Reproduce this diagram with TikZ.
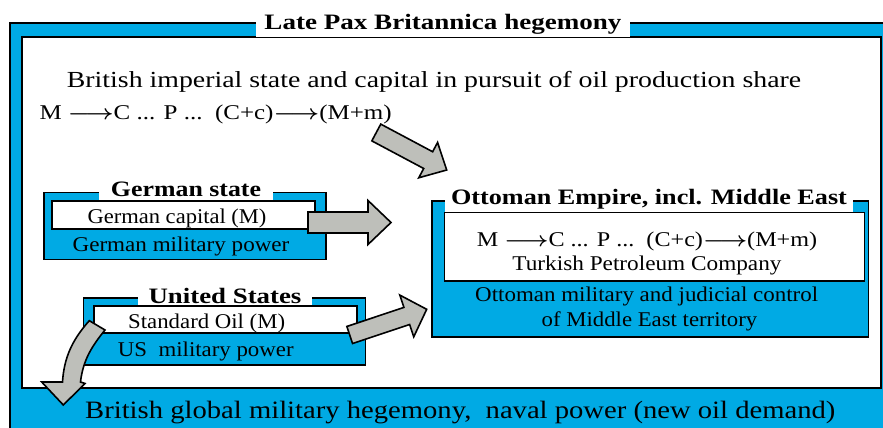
\documentclass[tikz,border=0pt]{standalone}
\usepackage{bm}
\usepackage{fontspec}
\setmainfont{Liberation Serif}
\usetikzlibrary{calc}
\definecolor{skyb}{RGB}{0,170,228}
\definecolor{arrgray}{RGB}{190,191,186}
\newcommand\hs[2]{\scalebox{#1}[1]{#2}}
\newcommand\lra{$\bm{\longrightarrow}$}
\newcommand\blockarrow[5]{%
  \coordinate (ba) at ($(#2)!#5!(#1)$);
  \draw[arrowbody] ($(#1)!#3!90:(#2)$) -- ($(ba)!#3!90:(#2)$) -- ($(ba)!#4!90:(#2)$) -- (#2)
    -- ($(ba)!#4!-90:(#2)$) -- ($(ba)!#3!-90:(#2)$) -- ($(#1)!#3!-90:(#2)$) -- cycle;
}
\tikzset{
  bluebox/.style={draw=black, fill=skyb, line width=1.6pt},
  whitebox/.style={draw=black, fill=white, line width=1.6pt},
  arrowbody/.style={draw=black, fill=arrgray, line width=1.6pt, line join=miter},
  ttl/.style={fill=white, inner sep=0pt, anchor=base, font=\bfseries\fontsize{22}{26}\selectfont},
  txt/.style={inner sep=0pt, anchor=base, font=\fontsize{21}{25}\selectfont},
}
\begin{document}
\begin{tikzpicture}[x=1pt,y=-1pt]
\useasboundingbox (0,0) rectangle (883,428);
% outer frame
\draw[bluebox] (10,23) rectangle (898,445);
\draw[whitebox] (22,37) rectangle (881,388);
\node[ttl, minimum width=374pt, text height=18pt, text depth=7.5pt] (title) at (443,29.3) {\hs{1.23}{Late Pax Britannica hegemony}};
\node[txt, anchor=base west, font=\fontsize{25}{29}\selectfont] (bottom) at (85,418.3) {\hs{1.145}{British global military hegemony,\ \ naval power (new oil demand)}};
% top text
\node[txt, anchor=base west, font=\fontsize{23}{27}\selectfont] (brit) at (66.7,87.7) {\hs{1.21}{British imperial state and capital in pursuit of oil production share}};
\node[txt, anchor=base west] (form1) at (39.3,119) {\hs{1.19}{M \lra C ... P ...\ \ (C+c)\lra(M+m)}};
% German
\node[bluebox, minimum width=282pt, minimum height=67pt, inner sep=0pt] (gbox) at (185,226) {};
\node[ttl, minimum width=174pt, text height=17pt, text depth=5pt] (gtitle) at (186,196.7) {\hs{1.175}{German state}};
\node[whitebox, minimum width=263pt, minimum height=28pt, inner sep=0pt] (gcap) at (183.5,215) {};
\node[txt] (gcapt) at (177,223.3) {\hs{1.073}{German capital (M)}};
\node[txt] (gmil) at (181,251) {\hs{1.1}{German military power}};
% US
\node[bluebox, minimum width=282pt, minimum height=67pt, inner sep=0pt] (ubox) at (224.5,331.3) {};
\node[ttl, minimum width=174pt, text height=17pt, text depth=5pt] (utitle) at (225,303.3) {\hs{1.22}{United States}};
\node[whitebox, minimum width=263pt, minimum height=27pt, inner sep=0pt] (ucap) at (225.3,319.7) {};
\node[txt] (ucapt) at (206.7,328.3) {\hs{1.085}{Standard Oil (M)}};
\node[txt] (umil) at (205.8,356) {\hs{1.087}{US\ \ military power}};
% Ottoman
\node[bluebox, minimum width=436.6pt, minimum height=136pt, inner sep=0pt] (obox) at (650,268.7) {};
\node[ttl, minimum width=408pt, text height=18pt, text depth=9pt] (otitle) at (649,204) {\hs{1.19}{Ottoman Empire, incl. Middle East}};
\node[whitebox, minimum width=420pt, minimum height=68.3pt, inner sep=0pt] (ocap) at (654.3,246.8) {};
\node[txt] (oform) at (647,246) {\hs{1.15}{M \lra C ... P ...\ \ (C+c)\lra(M+m)}};
\node[txt] (otpc) at (647,270) {\hs{1.107}{Turkish Petroleum Company}};
\node[txt] (omil1) at (646.7,301.7) {\hs{1.093}{Ottoman military and judicial control}};
\node[txt] (omil2) at (649.5,326.7) {\hs{1.084}{of Middle East territory}};
% arrows
\coordinate (ga0) at (308,222.5); \coordinate (ga1) at (391,222.5);
\blockarrow{ga0}{ga1}{10.5pt}{22pt}{23pt}
\coordinate (ta0) at (376.3,132.5); \coordinate (ta1) at (446.7,170);
\blockarrow{ta0}{ta1}{9.5pt}{20pt}{21pt}
\coordinate (ua0) at (349.7,335); \coordinate (ua1) at (426.7,309.3);
\blockarrow{ua0}{ua1}{9pt}{22pt}{21pt}
\coordinate (ca1) at (63.3,405);
\draw[arrowbody] (89.3,320.7) -- (105,330) .. controls (92,346) and (83,360) .. (80.5,382)
  -- (85,383.5) -- (ca1) -- (41.7,382) -- (62.5,382) .. controls (64,358) and (72,340) .. (89.3,320.7) -- cycle;
\end{tikzpicture}
\end{document}
